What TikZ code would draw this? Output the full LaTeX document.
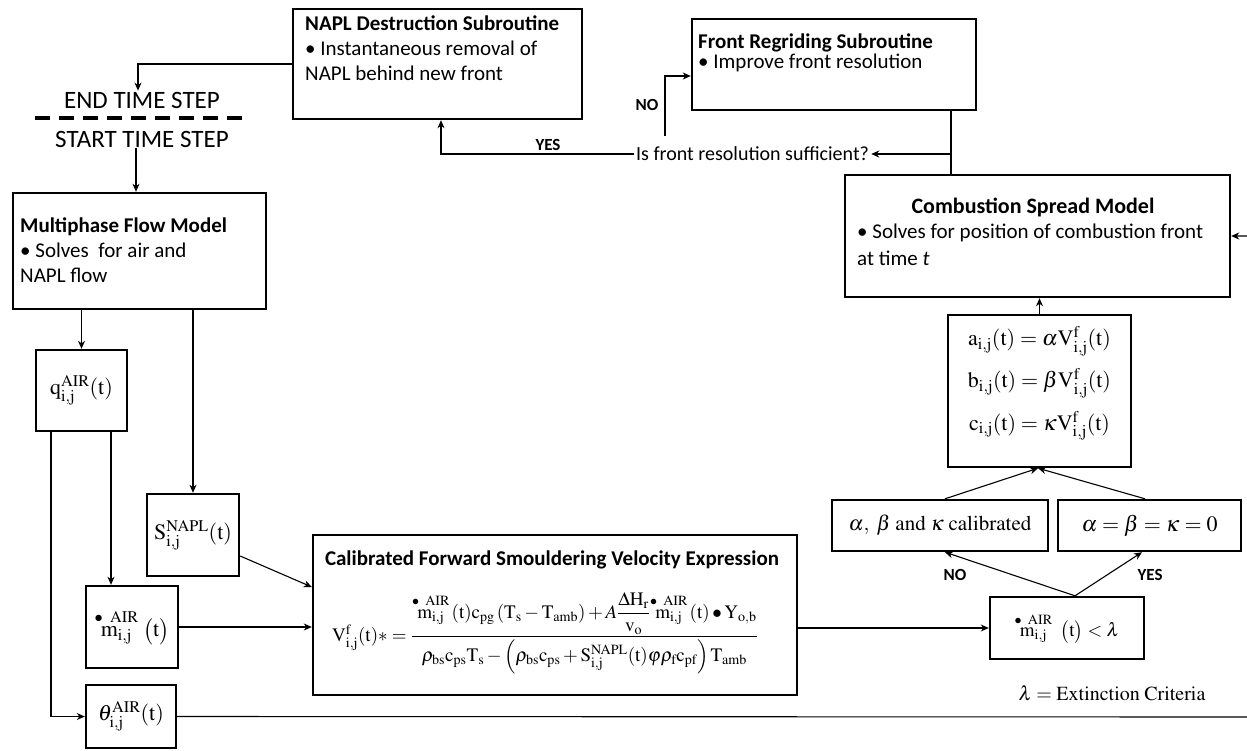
\documentclass[tikz,border=0pt]{standalone}
\usepackage{amsmath}
\usepackage{mathptmx}
\usepackage[no-math]{fontspec}
\setmainfont{Carlito}
\usetikzlibrary{arrows.meta,calc}
\newcommand{\rmm}[1]{\mathrm{#1}}
\newcommand{\mdt}{\overset{\bullet\;\;\rmm{AIR}}{\rmm{m}_{\rmm{i,j}}}}
\begin{document}
\begin{tikzpicture}[x=1pt,y=-1pt,
  box/.style={draw, line width=2.4pt, inner sep=0pt, rectangle},
  conn/.style={line width=1.1pt, -{Stealth[length=8pt,width=7pt,inset=2.5pt]}},
  plain/.style={line width=1.1pt},
  txt/.style={font=\fontsize{21}{25}\selectfont, align=left, inner sep=0pt, anchor=north west},
  ttl/.style={font=\fontsize{22}{25}\selectfont\bfseries, inner sep=0pt},
  big/.style={font=\fontsize{25}{28}\selectfont, inner sep=1pt},
  lbl/.style={font=\fontsize{17}{20}\selectfont\bfseries, inner sep=0pt},
  mth/.style={font=\fontsize{22}{26}\selectfont},
  mths/.style={font=\fontsize{20}{24}\selectfont}]
\useasboundingbox (0,0) rectangle (1247,750);

% boxes
\node[box, minimum width=289pt, minimum height=110pt] (napl) at (437.5,64) {};
\node[box, minimum width=284pt, minimum height=91pt] (regrid) at (834,64.5) {};
\node[box, minimum width=385pt, minimum height=122pt] (comb) at (1037.5,236) {};
\node[box, minimum width=253pt, minimum height=116pt] (multi) at (139.5,251) {};
\node[box, minimum width=91pt, minimum height=81pt, mth] (qbox) at (81.5,390.5) {$\rmm{q}^{\rmm{AIR}}_{\rmm{i,j}}(\rmm{t})$};
\node[box, minimum width=92pt, minimum height=82pt, mth] (sbox) at (193,535) {$\rmm{S}^{\rmm{NAPL}}_{\rmm{i,j}}(\rmm{t})$};
\node[box, minimum width=92pt, minimum height=82pt, mth] (mbox) at (132,627) {$\mdt\;\bigl(\rmm{t}\bigr)$};
\node[box, minimum width=90pt, minimum height=63pt, mth] (thbox) at (131,716.5) {$\theta^{\rmm{AIR}}_{\rmm{i,j}}(\rmm{t})$};
\node[box, minimum width=484pt, minimum height=160pt] (calib) at (555,615) {};
\node[box, minimum width=154pt, minimum height=62pt, font=\fontsize{19}{23}\selectfont] (crit) at (1067,628) {$\mdt\;\;\bigl(\rmm{t}\bigr)<\lambda$};
\node[box, minimum width=183pt, minimum height=152pt] (abc) at (1039.5,391) {};
\node[box, minimum width=216pt, minimum height=51pt, font=\fontsize{21}{25}\selectfont] (calbox) at (940,525.5) {$\alpha,\ \beta\ \rmm{and}\ \kappa\ \rmm{calibrated}$};
\node[box, minimum width=183pt, minimum height=51pt, mth] (zerobox) at (1149.5,525.5) {$\alpha=\beta=\kappa=0$};

% box texts
\node[txt] (naplt) at (305,16) {\textbf{NAPL Destruction Subroutine}\\• Instantaneous removal of\\NAPL behind new front};
\node[txt, font=\fontsize{21}{20}\selectfont] (regridt) at (698,34) {\textbf{Front Regriding Subroutine}\\• Improve front resolution};
\node[txt] (multit) at (20,218) {\textbf{Multiphase Flow Model}\\• Solves\ \ for air and\\NAPL flow};
\node[ttl] (combt) at (1033,207) {Combustion Spread Model};
\node[txt, font=\fontsize{21}{26.5}\selectfont] (combb) at (857,224) {• Solves for position of combustion front\\at time \textit{t}};
\node[ttl, font=\fontsize{21}{25}\selectfont\bfseries] (calibt) at (552,560) {Calibrated Forward Smouldering Velocity Expression};
\node[font=\fontsize{19}{23}\selectfont] (formula) at (545,633) {$\rmm{V}^{\rmm{f}}_{\rmm{i,j}}(\rmm{t})*=\dfrac{\mdt\,(\rmm{t})\rmm{c}_{\rmm{pg}}\left(\rmm{T}_{\rmm{s}}-\rmm{T}_{\rmm{amb}}\right)+A\dfrac{\Delta\rmm{H}_{\rmm{r}}}{\rmm{v}_{\rmm{o}}}\mdt\,(\rmm{t})\bullet\rmm{Y}_{\rmm{o,b}}}{\rho_{\rmm{bs}}\rmm{c}_{\rmm{ps}}\rmm{T}_{\rmm{s}}-\left(\rho_{\rmm{bs}}\rmm{c}_{\rmm{ps}}+\rmm{S}^{\rmm{NAPL}}_{\rmm{i,j}}(\rmm{t})\varphi\rho_{\rmm{f}}\rmm{c}_{\rmm{pf}}\right)\rmm{T}_{\rmm{amb}}}$};
\node[font=\fontsize{22}{26}\selectfont, align=center, inner sep=0pt] (abct) at (1039.5,383.5) {%
  $\rmm{a}_{\rmm{i,j}}(\rmm{t})=\alpha\rmm{V}^{\rmm{f}}_{\rmm{i,j}}(\rmm{t})$\\[12pt]
  $\rmm{b}_{\rmm{i,j}}(\rmm{t})=\beta\rmm{V}^{\rmm{f}}_{\rmm{i,j}}(\rmm{t})$\\[12pt]
  $\rmm{c}_{\rmm{i,j}}(\rmm{t})=\kappa\rmm{V}^{\rmm{f}}_{\rmm{i,j}}(\rmm{t})$};

% free texts
\node[big] (endts) at (142,100) {END TIME STEP};
\node[big] (startts) at (142,139) {START TIME STEP};
\draw[line width=3.5pt, dash pattern=on 15pt off 9pt] (35,118) -- (243,118);
\node[font=\fontsize{20}{24}\selectfont, inner sep=2pt, anchor=west] (isfront) at (634,154) {Is front resolution sufficient?};
\node[lbl] (yes1) at (548,145) {YES};
\node[lbl] (no1) at (647,105) {NO};
\node[lbl] (no2) at (955,575) {NO};
\node[lbl] (yes2) at (1150,575) {YES};
\node[mths] (ext) at (1112,693) {$\lambda=\rmm{Extinction\ Criteria}$};

% coordinates
\coordinate (vx) at (951,154);
\coordinate (nofoot) at (665,136);
\coordinate (rr) at (1253,717);

% connectors
\draw[conn] (napl.west) -| ([xshift=-4pt]endts.north);
\draw[conn] ([xshift=-6pt]startts.south) -- ([xshift=-6pt]multi.north -| startts.south);
\draw[conn] (qbox.north |- multi.south) -- (qbox.north);
\draw[conn] (sbox.north |- multi.south) -- (sbox.north);
\draw[conn] ([xshift=29.5pt]qbox.south) -- ([xshift=29.5pt]qbox.south |- mbox.north);
\draw[conn] ([xshift=-30.5pt]qbox.south) |- (thbox.west);
\draw[conn] ([yshift=-21pt]sbox.east) -- ([yshift=28pt]calib.west);
\draw[conn] (mbox.east) -- (mbox.east -| calib.west);
\draw[conn] (thbox.east) -- (rr) |- (comb.east);
\draw[conn] (crit.west -| calib.east) -- (crit.west);
\draw[conn] ([xshift=8pt]crit.north) -- ([xshift=5pt]calbox.south);
\draw[conn] ([xshift=8pt]crit.north) -- ([xshift=-7.5pt]zerobox.south);
\draw[conn] ([xshift=5pt]calbox.north) -- ([xshift=-1.5pt]abc.south);
\draw[conn] ([xshift=-4.5pt]zerobox.north) -- ([xshift=-1.5pt]abc.south);
\draw[conn] (abc.north) -- (abc.north |- comb.south);
\draw[plain] (vx |- regrid.south) -- (vx |- comb.north);
\draw[conn] (vx) -- (isfront.east);
\draw[conn] (isfront.west) -| ([xshift=3.5pt]napl.south);
\draw[conn] (nofoot) |- ([yshift=-11.5pt]regrid.west);
\end{tikzpicture}
\end{document}
